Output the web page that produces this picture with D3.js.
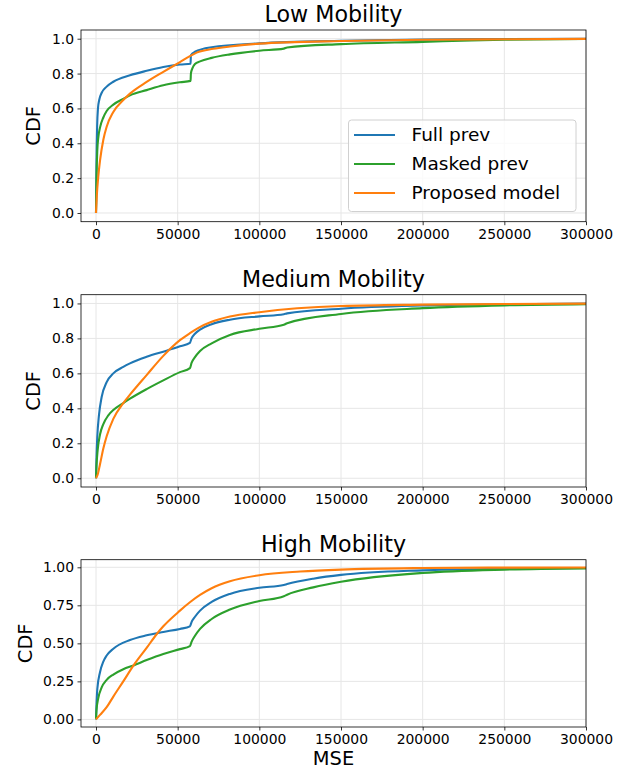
<!DOCTYPE html>
<meta charset="utf-8">
<style>
    body { margin: 0; background: #fff; }
    svg text { font-family: "DejaVu Sans", sans-serif; fill: #000; }
    .grid line { stroke: #e6e6e6; stroke-width: 1; }
    .tick text { font-size: 13.9px; }
</style>
<body>
<div id="plotarea"></div>
<script src="https://cdn.jsdelivr.net/npm/d3@7"></script>
<script>

    // tick values
    var mseTicks = [0, 50000, 100000, 150000, 200000, 250000, 300000];
    var cdfTicks = [0, 0.2, 0.4, 0.6, 0.8, 1.0];
    var cdfTicksHigh = [0, 0.25, 0.5, 0.75, 1.0];
    var seriesNames = ["Full prev", "Masked prev", "Proposed model"];
    var colors = ["#1f77b4", "#2ca02c", "#ff7f0e"];

    // Low mobility
    var lowFullX   = [0, 300, 700, 1200, 2000, 3500, 6530, 10600, 20800, 31000, 41200, 51400, 57900, 58100, 60600, 70800, 100000, 150000, 200000, 250000, 300000];
    var lowFullY   = [0, 0.30, 0.50, 0.60, 0.65, 0.69, 0.725, 0.753, 0.79, 0.816, 0.838, 0.852, 0.856, 0.905, 0.925, 0.951, 0.973, 0.988, 0.995, 0.998, 1.0];
    var lowMaskX   = [0, 300, 800, 1500, 2450, 4490, 6530, 10600, 16700, 20800, 31000, 41200, 51400, 57900, 58100, 59000, 60600, 63700, 70800, 82000, 100000, 115000, 117000, 150000, 200000, 230000, 250000, 300000];
    var lowMaskY   = [0, 0.20, 0.36, 0.44, 0.49, 0.548, 0.585, 0.622, 0.655, 0.675, 0.705, 0.733, 0.75, 0.758, 0.80, 0.83, 0.855, 0.87, 0.89, 0.91, 0.931, 0.943, 0.95, 0.969, 0.982, 0.99, 0.994, 0.998];
    var lowPropX   = [0, 500, 1400, 2450, 4490, 6530, 10600, 16700, 20800, 31000, 41200, 51400, 57500, 61600, 71800, 82000, 100000, 150000, 200000, 250000, 300000];
    var lowPropY   = [0, 0.10, 0.21, 0.30, 0.42, 0.495, 0.58, 0.648, 0.685, 0.752, 0.81, 0.866, 0.90, 0.92, 0.942, 0.955, 0.972, 0.987, 0.994, 0.997, 0.999];

    // Medium mobility
    var medFullX   = [0, 300, 800, 1800, 3470, 6530, 10600, 16700, 20800, 31000, 43200, 51400, 57500, 58500, 60600, 63700, 70800, 82000, 100000, 115000, 117000, 150000, 200000, 250000, 300000];
    var medFullY   = [0, 0.12, 0.24, 0.36, 0.465, 0.55, 0.60, 0.637, 0.657, 0.695, 0.73, 0.755, 0.775, 0.80, 0.827, 0.85, 0.881, 0.907, 0.926, 0.938, 0.943, 0.97, 0.988, 0.995, 0.999];
    var medMaskX   = [0, 300, 1000, 2450, 4490, 7550, 10600, 16700, 20800, 31000, 41200, 51400, 57500, 58500, 60600, 63700, 70800, 82000, 100000, 115000, 117000, 150000, 200000, 250000, 300000];
    var medMaskY   = [0, 0.07, 0.16, 0.25, 0.31, 0.36, 0.39, 0.43, 0.455, 0.51, 0.56, 0.607, 0.63, 0.66, 0.693, 0.728, 0.772, 0.82, 0.855, 0.878, 0.887, 0.94, 0.973, 0.989, 0.996];
    var medPropX   = [0, 1000, 2450, 4490, 6530, 10600, 16700, 20800, 31000, 41200, 51400, 57500, 63000, 70800, 82000, 100000, 150000, 200000, 250000, 300000];
    var medPropY   = [0, 0.02, 0.08, 0.17, 0.24, 0.34, 0.43, 0.478, 0.59, 0.70, 0.79, 0.83, 0.862, 0.895, 0.925, 0.95, 0.985, 0.993, 0.997, 0.999];

    // High mobility
    var highFullX  = [0, 300, 800, 2450, 4490, 6530, 10600, 20800, 31000, 41200, 51400, 57500, 58500, 60600, 63700, 70800, 82000, 100000, 115000, 117000, 133000, 150000, 200000, 250000, 300000];
    var highFullY  = [0, 0.10, 0.20, 0.31, 0.38, 0.42, 0.465, 0.522, 0.553, 0.575, 0.595, 0.612, 0.64, 0.675, 0.715, 0.772, 0.825, 0.865, 0.884, 0.89, 0.925, 0.95, 0.98, 0.99, 0.995];
    var highMaskX  = [0, 300, 1400, 3470, 6530, 10600, 16700, 23000, 31000, 41200, 51400, 57500, 58500, 60600, 63700, 70800, 82000, 100000, 115000, 117000, 133000, 150000, 200000, 250000, 300000];
    var highMaskY  = [0, 0.06, 0.14, 0.21, 0.26, 0.295, 0.33, 0.355, 0.39, 0.43, 0.462, 0.482, 0.51, 0.55, 0.595, 0.66, 0.722, 0.778, 0.81, 0.82, 0.868, 0.905, 0.963, 0.985, 0.993];
    var highPropX  = [0, 2450, 6530, 10600, 16700, 23000, 31000, 37100, 41200, 51400, 57500, 63700, 70800, 82000, 100000, 125000, 150000, 200000, 250000, 300000];
    var highPropY  = [0, 0.03, 0.08, 0.15, 0.25, 0.355, 0.47, 0.56, 0.612, 0.715, 0.77, 0.818, 0.862, 0.908, 0.948, 0.972, 0.985, 0.995, 0.998, 0.999];

    function pairs(xs, ys) {
        return xs.map(function(x, i) { return {x: x, y: ys[i]}; });
    }

    var panels = [
        {title: "Low Mobility", top: 30, height: 191.7, ticks: cdfTicks, fmt: ".1f", labelX: 33, legend: true,
         series: [pairs(lowFullX, lowFullY), pairs(lowMaskX, lowMaskY), pairs(lowPropX, lowPropY)]},
        {title: "Medium Mobility", top: 294.7, height: 192.3, ticks: cdfTicks, fmt: ".1f", labelX: 33, legend: false,
         series: [pairs(medFullX, medFullY), pairs(medMaskX, medMaskY), pairs(medPropX, medPropY)]},
        {title: "High Mobility", top: 559.7, height: 167.3, ticks: cdfTicksHigh, fmt: ".2f", labelX: 25, legend: false,
         series: [pairs(highFullX, highFullY), pairs(highMaskX, highMaskY), pairs(highPropX, highPropY)]}
    ];

    var left = 81, right = 586;

    var svg = d3.select("#plotarea").append("svg")
            .attr("width", 631)
            .attr("height", 770);

    var x = d3.scaleLinear()
            .domain([-9184, 300000])
            .range([left, right]);

    panels.forEach(function(p, pi) {
        var y = d3.scaleLinear()
                .domain([-0.05, 1.05])
                .range([p.top + p.height, p.top]);

        var g = svg.append("g");

        // grid
        var grid = g.append("g").attr("class", "grid");
        grid.selectAll(".gx").data(mseTicks).enter().append("line")
                .attr("x1", function(d) { return x(d); })
                .attr("x2", function(d) { return x(d); })
                .attr("y1", p.top).attr("y2", p.top + p.height);
        grid.selectAll(".gy").data(p.ticks).enter().append("line")
                .attr("x1", left).attr("x2", right)
                .attr("y1", function(d) { return y(d); })
                .attr("y2", function(d) { return y(d); });

        var clipId = "clip" + pi;
        g.append("clipPath").attr("id", clipId)
                .append("rect")
                .attr("x", left).attr("y", p.top)
                .attr("width", right - left).attr("height", p.height);

        var line = d3.line()
                .x(function(d) { return x(d.x); })
                .y(function(d) { return y(d.y); })
                .curve(d3.curveMonotoneX);

        g.append("g").attr("clip-path", "url(#" + clipId + ")")
                .selectAll("path").data(p.series).enter().append("path")
                .attr("d", line)
                .attr("fill", "none")
                .attr("stroke", function(d, i) { return colors[i]; })
                .attr("stroke-width", 2.1)
                .attr("stroke-linejoin", "round");

        // axes
        var xAxis = g.append("g")
                .attr("transform", "translate(0," + (p.top + p.height) + ")")
                .call(d3.axisBottom(x).tickValues(mseTicks).tickFormat(d3.format("d")).tickSize(3.5).tickPadding(3.5));
        var yAxis = g.append("g")
                .attr("transform", "translate(" + left + ",0)")
                .call(d3.axisLeft(y).tickValues(p.ticks).tickFormat(d3.format(p.fmt)).tickSize(3.5).tickPadding(3.5));
        [xAxis, yAxis].forEach(function(a) {
            a.select(".domain").remove();
            a.selectAll(".tick line").attr("stroke", "#000").attr("stroke-width", 0.8);
            a.selectAll(".tick text").style("font-family", "DejaVu Sans");
        });

        g.append("rect")
                .attr("x", left).attr("y", p.top)
                .attr("width", right - left).attr("height", p.height)
                .attr("fill", "none")
                .attr("stroke", "#000")
                .attr("stroke-width", 0.8);

        g.append("text")
                .attr("x", (left + right) / 2)
                .attr("y", p.top - 8)
                .attr("text-anchor", "middle")
                .style("font-size", "22.2px")
                .text(p.title);

        g.append("text")
                .attr("transform", "translate(" + p.labelX + "," + (p.top + p.height / 2) + ") rotate(-90)")
                .attr("text-anchor", "middle")
                .attr("dy", "0.35em")
                .style("font-size", "19.4px")
                .text("CDF");

        if (p.legend) {
            var lg = g.append("g");
            lg.append("rect")
                    .attr("x", 348.5).attr("y", 120)
                    .attr("width", 227.5).attr("height", 91.5)
                    .attr("rx", 3)
                    .attr("fill", "#fff").attr("fill-opacity", 0.8)
                    .attr("stroke", "#d0d0d0");
            seriesNames.forEach(function(name, i) {
                var ly = 135 + i * 29;
                lg.append("line")
                        .attr("x1", 354).attr("x2", 395)
                        .attr("y1", ly).attr("y2", ly)
                        .attr("stroke", colors[i]).attr("stroke-width", 2.1);
                lg.append("text")
                        .attr("x", 411.5).attr("y", ly)
                        .attr("dy", "0.35em")
                        .style("font-size", "18.5px")
                        .text(name);
            });
        }
    });

    svg.append("text")
            .attr("x", (left + right) / 2)
            .attr("y", 765)
            .attr("text-anchor", "middle")
            .style("font-size", "19.4px")
            .text("MSE");

</script>
</body>
